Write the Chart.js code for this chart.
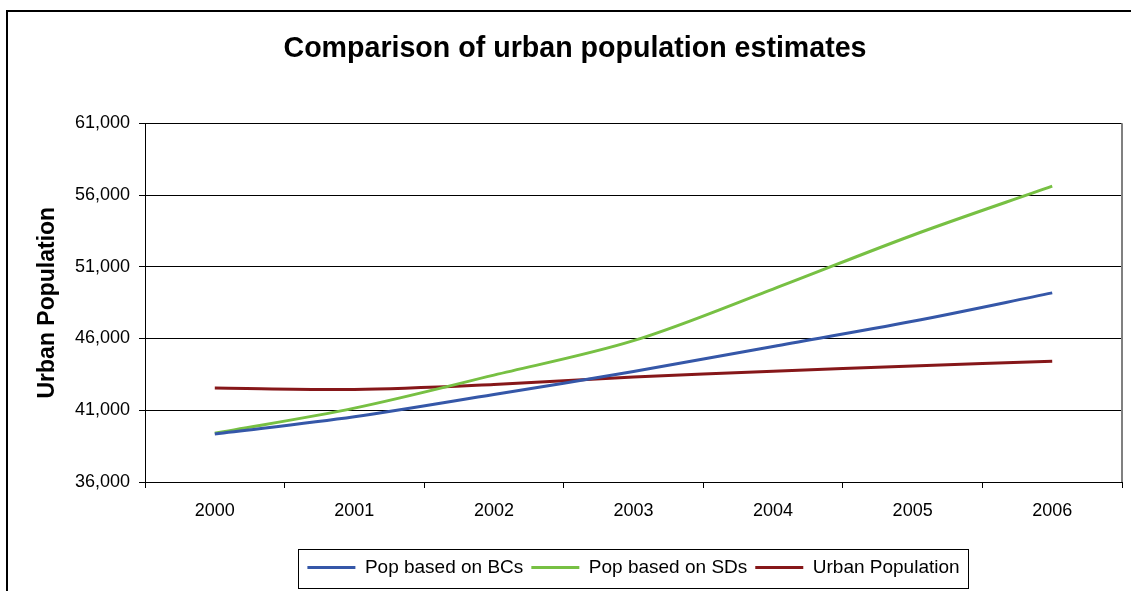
<!DOCTYPE html>
<html>
<head>
<meta charset="utf-8">
<script src="https://cdn.jsdelivr.net/npm/chart.js@4"></script>
<style>
  html, body { margin: 0; padding: 0; background: #fff; }
  #wrap { width: 1131px; height: 591px; }
</style>
</head>
<body>
<div id="wrap"><canvas id="myChart" width="1131" height="591"></canvas></div>
<script>
// values
const years = ['2000', '2001', '2002', '2003', '2004', '2005', '2006'];
const popBCs = [39350, 40550, 42100, 43700, 45450, 47200, 49180];
const popSDs = [39400, 41150, 43450, 45850, 49450, 53200, 56620];
const urbanPop = [42550, 42450, 42800, 43320, 43720, 44080, 44420];

const FONT = "'Liberation Sans', Arial, sans-serif";

// outer frame, right border of plot, box round the legend
const frames = {
    id: 'frames',
    beforeDraw(chart) {
        const ctx = chart.ctx;
        ctx.save();
        ctx.fillStyle = '#fff';
        ctx.fillRect(0, 0, chart.width, chart.height);
        ctx.strokeStyle = '#000';
        ctx.lineWidth = 2;
        ctx.strokeRect(7, 11, 2000, 2000);
        ctx.restore();
    },
    afterDraw(chart) {
        const ctx = chart.ctx;
        const a = chart.chartArea;
        ctx.save();
        ctx.strokeStyle = '#808080';
        ctx.lineWidth = 2;
        ctx.beginPath();
        ctx.moveTo(a.right, a.top);
        ctx.lineTo(a.right, a.bottom);
        ctx.stroke();

        const hb = chart.legend.legendHitBoxes;
        if (hb && hb.length) {
            let l = Infinity, r = -Infinity, t = Infinity, b = -Infinity;
            hb.forEach(h => {
                l = Math.min(l, h.left);
                r = Math.max(r, h.left + h.width);
                t = Math.min(t, h.top);
                b = Math.max(b, h.top + h.height);
            });
            ctx.strokeStyle = '#000';
            ctx.lineWidth = 1;
            ctx.strokeRect(Math.round(l - 9) + 0.5, Math.round(t - 9) + 0.5,
                           Math.round(r - l + 18), Math.round(b - t + 20));
        }
        ctx.restore();
    }
};

const data = {
    labels: years,
    datasets: [
        { label: 'Pop based on BCs', data: popBCs, borderColor: '#3557a8', backgroundColor: '#3557a8' },
        { label: 'Pop based on SDs', data: popSDs, borderColor: '#77c043', backgroundColor: '#77c043' },
        { label: 'Urban Population', data: urbanPop, borderColor: '#861719', backgroundColor: '#861719' }
    ]
};
data.datasets.forEach(ds => {
    ds.borderWidth = 3;
    ds.pointRadius = 0;
    ds.tension = 0.33;
    ds.fill = false;
});

const config = {
    type: 'line',
    data: data,
    options: {
        responsive: false,
        animation: false,
        layout: { padding: { left: 28, right: 9, top: 0, bottom: 4 } },
        plugins: {
            title: {
                display: true,
                text: 'Comparison of urban population estimates',
                color: '#000',
                font: { family: FONT, size: 28.6, weight: 'bold', lineHeight: 1.2 },
                padding: { top: 32, bottom: 57 }
            },
            legend: {
                position: 'bottom',
                fullSize: false,
                labels: {
                    color: '#000',
                    font: { family: FONT, size: 19 },
                    usePointStyle: true,
                    pointStyle: 'line',
                    pointStyleWidth: 48,
                    padding: 8
                }
            },
            tooltip: { enabled: false }
        },
        scales: {
            x: {
                offset: true,
                grid: { offset: true, drawOnChartArea: false, drawTicks: true, tickLength: 6, color: '#000' },
                border: { display: true, color: '#000', width: 1 },
                ticks: { color: '#000', font: { family: FONT, size: 18 }, padding: 12, maxRotation: 0 },
                afterFit(scale) { scale.height = 68; }
            },
            y: {
                min: 36000,
                max: 61000,
                ticks: {
                    stepSize: 5000,
                    color: '#000',
                    font: { family: FONT, size: 18 },
                    padding: 9,
                    callback: v => v.toLocaleString('en-US')
                },
                grid: { color: '#000', tickLength: 6 },
                border: { display: true, color: '#000', width: 1 },
                title: {
                    display: true,
                    text: 'Urban Population',
                    color: '#000',
                    font: { family: FONT, size: 23, weight: 'bold' },
                    padding: { top: 6, bottom: 0 }
                },
                afterFit(scale) { scale.width = 117; }
            }
        }
    },
    plugins: [frames]
};

const myChart = new Chart(document.getElementById('myChart').getContext('2d'), config);
</script>
</body>
</html>
